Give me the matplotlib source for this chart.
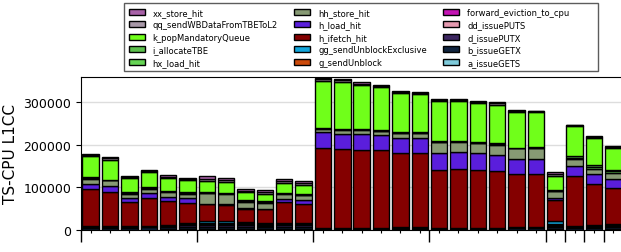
import matplotlib.pyplot as plt
import numpy as np

# stacking order, bottom to top
series_names = [
    'a_issueGETS', 'b_issueGETX', 'd_issuePUTX', 'dd_issuePUTS',
    'forward_eviction_to_cpu', 'g_sendUnblock', 'gg_sendUnblockExclusive',
    'h_ifetch_hit', 'h_load_hit', 'hh_store_hit', 'hx_load_hit',
    'i_allocateTBE', 'k_popMandatoryQueue', 'qq_sendWBDataFromTBEToL2',
    'xx_store_hit',
]
series_colors = [
    '#7fcbdb', '#10243e', '#3c2660', '#e59ab0',
    '#c414b4', '#cc4a0a', '#12a6dc',
    '#840000', '#5a1edc', '#879a74', '#66d455',
    '#5cc04c', '#70ff1a', '#a898a8',
    '#a862a8',
]

# values in thousands, one entry per bar (28 bars)
a_issueGETS = [1, 1, 1, 1, 2, 2, 3, 3, 3, 3, 2, 2, 0.5, 0.5, 0.5, 0.5, 1, 1, 0.5, 0.5, 0.5, 0.5, 1, 1, 3, 1, 1, 2]
b_issueGETX = [4, 4, 4, 5, 5, 6, 4, 4, 4, 3, 6, 6, 1.5, 1.5, 1.5, 1.5, 2, 2, 1.5, 1.5, 1.5, 1.5, 4, 4, 3, 3, 4, 4]
d_issuePUTX = [2, 2, 2, 2, 3, 4, 4, 4, 4, 4, 4, 4, 1, 1, 1, 1, 1.5, 1.5, 1, 1, 1, 1, 2, 2, 3, 3, 3, 3]
dd_issuePUTS = [0.5, 0.5, 0.5, 0.5, 0.5, 1, 3, 3, 2.5, 2.5, 1.5, 1.5, 0.3, 0.3, 0.3, 0.3, 0.5, 0.5, 0.3, 0.3, 0.3, 0.3, 0.3, 0.3, 3, 0.5, 1, 1]
forward_eviction_to_cpu = [0.3, 0.3, 0.3, 0.3, 0.3, 0.5, 2, 2, 1.5, 1.5, 0.5, 0.5, 0.2, 0.2, 0.2, 0.2, 0.3, 0.3, 0.2, 0.2, 0.2, 0.2, 0.2, 0.2, 2, 0.5, 1, 1]
g_sendUnblock = [0.2, 0.2, 0.2, 0.2, 0.2, 0.5, 1, 1, 0.5, 0.5, 0.5, 0.5, 0.2, 0.2, 0.2, 0.2, 0.2, 0.2, 0.2, 0.2, 0.2, 0.2, 0.2, 0.2, 1, 1, 1, 3]
gg_sendUnblockExclusive = [0.5, 0.5, 0.5, 1, 1.5, 1.5, 4, 4, 3, 3, 2, 2, 0.3, 0.3, 0.3, 0.3, 0.5, 0.5, 0.3, 0.3, 0.3, 0.3, 0.3, 0.3, 5, 1, 1, 1]
h_ifetch_hit = [87, 82, 58, 65, 56, 48, 39, 38, 32, 31, 49, 45, 189, 187, 185, 183, 174, 174, 138, 140, 136, 134, 124, 124, 50, 116, 97, 83]
h_load_hit = [12, 13, 8, 11, 10, 11, 1, 1, 1, 1, 7, 8, 37, 35, 37, 36, 37, 37, 39, 39, 40, 39, 36, 36, 6, 24, 23, 22]
hh_store_hit = [13, 13, 11, 11, 11, 11, 26, 25, 15, 15, 12, 12, 8, 9, 9, 9, 10, 10, 25, 24, 24, 24, 24, 25, 15, 17, 11, 14]
hx_load_hit = [1.5, 1, 1.5, 2, 1.5, 2, 1, 1.5, 1.5, 1.5, 1.5, 1.5, 1, 1.5, 1.5, 1.5, 1.5, 1.5, 1.5, 1.5, 1.5, 1.5, 1, 1, 1, 3, 4.5, 4]
i_allocateTBE = [1.5, 1, 1.5, 2, 1.5, 2, 1, 1.5, 1.5, 1.5, 1.5, 1.5, 1, 1.5, 1.5, 1.5, 1.5, 1.5, 1.5, 1.5, 1.5, 1.5, 1, 1, 1, 3, 4.5, 4]
k_popMandatoryQueue = [50, 47, 33, 36, 30, 28, 27, 24, 19, 18, 24, 22, 111, 111, 104, 102, 92, 90, 94, 93, 92, 91, 83, 82, 33, 72, 64, 52]
qq_sendWBDataFromTBEToL2 = [3, 3, 3, 2, 3, 2, 5, 5, 4, 4, 4, 4, 3, 3, 2.5, 2.5, 2.5, 2, 2.5, 2.5, 2.5, 2.5, 2.5, 2, 5, 1.5, 2, 1.5]
xx_store_hit = [2, 2, 2, 2, 3, 3, 6, 6, 5, 4, 5, 5, 4, 3, 2.5, 2.5, 2.5, 2, 2.5, 2.5, 2.5, 2.5, 2.5, 2, 6, 1.5, 2, 1.5]

series_values = [
    a_issueGETS, b_issueGETX, d_issuePUTX, dd_issuePUTS,
    forward_eviction_to_cpu, g_sendUnblock, gg_sendUnblockExclusive,
    h_ifetch_hit, h_load_hit, hh_store_hit, hx_load_hit,
    i_allocateTBE, k_popMandatoryQueue, qq_sendWBDataFromTBEToL2,
    xx_store_hit,
]

# bar index positions of the group separators
group_edges = [-0.5, 5.5, 11.5, 17.5, 23.5, 24.5, 25.5, 26.5, 27.5]
yticks = [0, 100000, 200000, 300000]

fig = plt.figure(figsize=(6.21, 2.53), dpi=100)
ax = fig.add_axes([0.1304, 0.087, 0.8728, 0.605])

n = len(h_ifetch_hit)
x = np.arange(n)
bottom = np.zeros(n)
handles = []
for name, color, vals in zip(series_names, series_colors, series_values):
    v = np.array(vals) * 1000
    b = ax.bar(x, v, 0.85, bottom=bottom, color=color, edgecolor='black',
               linewidth=1.0, label=name, zorder=3)
    handles.append(b)
    bottom += v

ax.set_xlim(-0.5, n - 0.5)
ax.set_ylim(0, 360000)
ax.set_yticks(yticks)
ax.set_yticklabels([str(t) for t in yticks], fontsize=9)
ax.set_ylabel('TS-CPU L1CC', fontsize=11)
ax.yaxis.grid(True, color='#dddddd', linewidth=1, zorder=0)
ax.set_axisbelow(True)

ax.set_xticks(group_edges)
ax.set_xticklabels([])
ax.set_xticks(x, minor=True)
ax.tick_params(axis='x', which='major', length=8.5, width=1)
ax.tick_params(axis='x', which='minor', length=2.5, width=0.8)
ax.tick_params(axis='y', length=3.5)

# the reference legend box has extra room on its right side
labels = series_names[::-1]
labels = [l + ' ' * 9 if l == 'forward_eviction_to_cpu' else l for l in labels]
leg = fig.legend(handles[::-1], labels, loc='upper left',
                 bbox_to_anchor=(120 / 621, 1.0), ncol=3, fontsize=6,
                 frameon=True, fancybox=False, edgecolor='#333333',
                 handlelength=1.9, handleheight=0.7, handletextpad=0.95,
                 labelspacing=0.42, columnspacing=2.0, borderpad=0.55)
leg.get_frame().set_linewidth(1.0)

plt.savefig('out.png', dpi=100)
